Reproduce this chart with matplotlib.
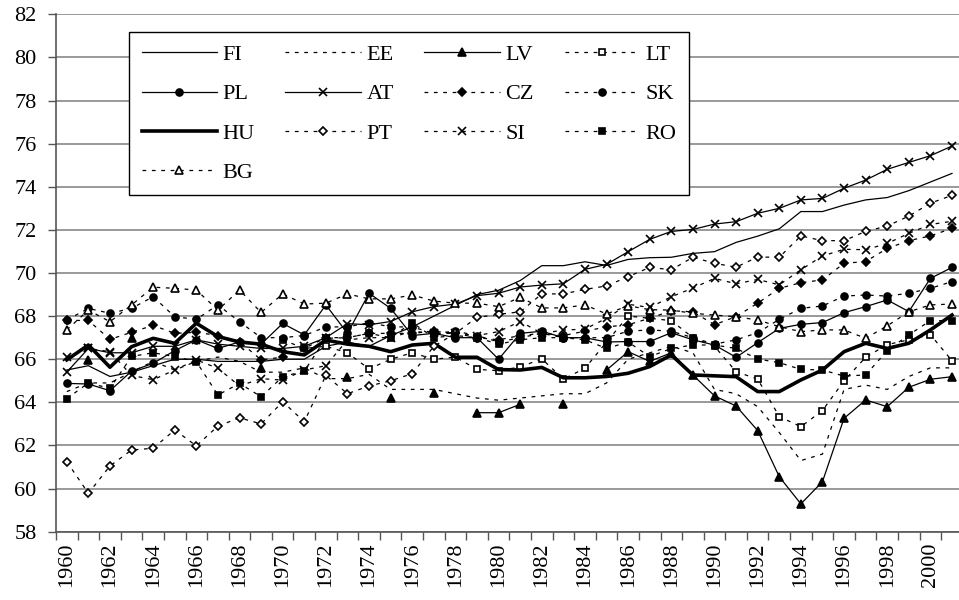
import numpy as np
import matplotlib
matplotlib.use('Agg')
import matplotlib.pyplot as plt
from matplotlib.lines import Line2D

nan = np.nan
years = list(range(1960, 2002))
tick_years = list(range(1960, 2001, 2))

FI = [65.5, 65.7, 65.2, 65.4, 65.7, 66.0, 66.0, 65.9, 65.9, 65.9, 66.0, 66.0, 66.6, 66.8, 66.6, 67.1, 67.5, 68.0, 68.5, 69.0,
      69.2, 69.65, 70.34, 70.34, 70.52, 70.35, 70.63, 70.71, 70.73, 70.91, 70.99, 71.42, 71.71, 72.05, 72.85, 72.85, 73.15, 73.39,
      73.5, 73.82, 74.22, 74.62]
EE = [64.5, 64.9, 64.9, 65.4, 65.9, 65.5, 65.9, 66.1, 65.9, 65.4, 65.4, 65.6, 65.1, 65.1, 65.3, 64.6, 64.6, 64.6, 64.4, 64.2,
      64.1, 64.2, 64.3, 64.4, 64.4, 64.9, 66.0, 66.3, 66.6, 66.3, 64.6, 64.4, 63.8, 62.6, 61.3, 61.6, 64.6, 64.8, 64.6, 65.2,
      65.6, 65.6]
LV = [nan, 65.97, nan, 67.0, nan, nan, nan, nan, nan, 65.58, nan, nan, nan, 65.19, nan, 64.19, nan, 64.45, nan, 63.52,
      63.52, 63.91, nan, 63.91, nan, 65.5, 66.35, 65.9, 66.3, 65.27, 64.3, 63.83, 62.69, 60.55, 59.29, 60.32, 63.26, 64.11,
      63.8, 64.7, 65.07, 65.19]
LT = [nan, nan, nan, nan, nan, nan, nan, nan, nan, nan, 66.9, 66.5, 66.6, 66.3, 65.55, 66.0, 66.3, 66.0, 66.1, 65.53,
      65.47, 65.64, 66.02, 65.08, 65.58, 66.8, 68.0, 67.9, 67.79, 67.0, 66.6, 65.42, 65.08, 63.34, 62.87, 63.62, 65.0, 66.09,
      66.68, 66.9, 67.14, 65.93]
PL = [64.88, 64.85, 64.54, 65.45, 65.81, 66.4, 66.9, 66.5, 66.8, 66.7, 67.66, 67.13, 68.52, 67.2, 69.06, 68.36, 67.1, 67.2,
      67.0, 67.0, 66.0, 67.2, 67.3, 67.0, 67.0, 66.8, 66.82, 66.82, 67.23, 66.9, 66.66, 66.09, 66.77, 67.43, 67.62, 67.7,
      68.16, 68.44, 68.75, 68.21, 69.75, 70.26]
AT = [65.4, 66.5, 66.3, 66.3, 66.6, 66.6, 66.9, 66.7, 66.6, 66.5, 66.5, 66.6, 67.0, 67.65, 67.6, 67.75, 68.2, 68.44, 68.56,
      68.95, 69.06, 69.35, 69.44, 69.5, 70.17, 70.4, 70.99, 71.56, 71.93, 72.02, 72.27, 72.38, 72.77, 73.0, 73.39, 73.46,
      73.93, 74.31, 74.81, 75.13, 75.44, 75.89]
CZ = [67.8, 67.8, 66.92, 67.25, 67.57, 67.2, 67.25, 67.1, 66.82, 65.97, 66.1, 66.5, 67.0, 67.0, 67.2, 67.2, 67.2, 67.3,
      67.2, 67.0, 66.9, 67.1, 67.2, 67.1, 67.3, 67.5, 67.6, 67.9, 68.25, 68.2, 67.6, 67.98, 68.6, 69.29, 69.55, 69.68, 70.45,
      70.53, 71.14, 71.5, 71.72, 72.07]
SK = [67.82, 68.36, 68.13, 68.36, 68.9, 67.97, 67.85, 68.52, 67.74, 67.0, 67.0, 67.1, 67.5, 67.5, 67.7, 67.5, 67.5, 67.2,
      67.3, 67.1, 66.8, 67.0, 67.2, 67.0, 67.0, 67.0, 67.3, 67.36, 67.3, 67.0, 66.7, 66.9, 67.23, 67.85, 68.36, 68.47, 68.93,
      68.98, 68.93, 69.06, 69.29, 69.6]
HU = [65.97, 66.66, 65.63, 66.58, 66.97, 66.74, 67.67, 67.05, 66.8, 66.7, 66.35, 66.2, 66.89, 66.7, 66.6, 66.35, 66.66,
      66.74, 66.09, 66.09, 65.52, 65.5, 65.62, 65.14, 65.14, 65.2, 65.35, 65.66, 66.2, 65.27, 65.23, 65.19, 64.5, 64.5, 65.04,
      65.5, 66.35, 66.74, 66.5, 66.74, 67.36, 68.05]
PT = [61.25, 59.78, 61.05, 61.79, 61.87, 62.72, 61.98, 62.9, 63.28, 63.0, 64.03, 63.1, 65.25, 64.4, 64.76, 65.0, 65.33, 66.6,
      67.2, 67.94, 68.08, 68.2, 69.03, 69.03, 69.24, 69.4, 69.83, 70.26, 70.15, 70.73, 70.45, 70.27, 70.74, 70.73, 71.72, 71.5,
      71.5, 71.93, 72.18, 72.64, 73.24, 73.6]
SI = [66.1, 66.5, 66.35, 65.25, 65.05, 65.5, 65.97, 65.58, 64.76, 65.1, 65.03, 65.5, 65.7, 66.9, 67.0, 67.0, 67.3, 67.2,
      67.2, 67.1, 67.28, 67.75, 67.2, 67.35, 67.4, 67.9, 68.55, 68.4, 68.9, 69.3, 69.75, 69.5, 69.7, 69.45, 70.15, 70.79, 71.1,
      71.08, 71.37, 71.84, 72.25, 72.4]
RO = [64.17, 64.9, 64.65, 66.13, 66.3, 66.12, 65.89, 64.34, 64.88, 64.26, 65.19, 65.45, 66.97, 67.0, 67.2, 67.0, 67.7, 67.0,
      67.1, 67.0, 66.7, 66.9, 67.0, 67.0, 66.9, 66.5, 66.8, 66.12, 66.5, 66.66, 66.66, 66.5, 66.01, 65.84, 65.53, 65.5, 65.22,
      65.27, 66.4, 67.13, 67.79, 67.79]
BG = [67.36, 68.28, 67.74, 68.52, 69.34, 69.29, 69.21, 68.28, 69.21, 68.17, 69.03, 68.56, 68.6, 69.03, 68.8, 68.8, 68.98,
      68.7, 68.6, 68.6, 68.44, 68.87, 68.38, 68.38, 68.52, 68.1, 68.48, 68.3, 68.28, 68.13, 68.05, 67.97, 67.82, 67.51, 67.28,
      67.36, 67.36, 66.97, 67.55, 68.2, 68.52, 68.56]

plt.rcParams['font.family'] = ['Liberation Serif', 'DejaVu Serif']
FS = 16

fig = plt.figure(figsize=(9.59, 6.0), dpi=100)
top_px, bot_px, left_px, right_px = 14.3, 531.7, 56.0, 962.8
ax = fig.add_axes([left_px / 959, 1 - bot_px / 600, (right_px - left_px) / 959, (bot_px - top_px) / 600])
x = np.arange(len(years))

DOT = (0, (3, 4.5))
black = 'black'
specs = [
    ('FI', FI, '-', None, None, 0.9, 0),
    ('EE', EE, DOT, None, None, 0.9, 0),
    ('LV', LV, '-', '^', 'fill', 0.9, 5.5),
    ('LT', LT, DOT, 's', 'open', 0.9, 4.5),
    ('PL', PL, '-', 'o', 'fill', 0.9, 5),
    ('AT', AT, '-', 'x', 'fill', 0.9, 6),
    ('CZ', CZ, DOT, 'D', 'fill', 0.9, 4.5),
    ('SK', SK, DOT, 'o', 'fill', 0.9, 5),
    ('HU', HU, '-', None, None, 2.6, 0),
    ('PT', PT, DOT, 'D', 'open', 0.9, 4.5),
    ('SI', SI, DOT, 'x', 'fill', 0.9, 6),
    ('RO', RO, DOT, 's', 'fill', 0.9, 4.5),
    ('BG', BG, DOT, '^', 'open', 0.9, 5.5),
]

handles = {}
for name, data, ls, mk, fillmode, lw, ms in specs:
    kw = dict(color=black, linestyle=ls, linewidth=lw)
    if mk:
        kw.update(marker=mk, markersize=ms, markeredgecolor=black, markeredgewidth=1.2,
                  markerfacecolor=black if fillmode == 'fill' else 'white')
    line, = ax.plot(x, np.array(data, dtype=float), **kw)
    line.set_clip_on(False)
    handles[name] = line

ax.set_xlim(-0.5, len(years) - 0.5)
ax.set_ylim(58, 82)
ax.set_yticks(range(58, 83, 2))
ax.yaxis.grid(True, color='#888888', linewidth=1.2)
ax.set_axisbelow(True)
for s in ['top', 'right']:
    ax.spines[s].set_visible(False)
for s in ['left', 'bottom']:
    ax.spines[s].set_color('#555555')
    ax.spines[s].set_linewidth(1.2)

ax.set_xticks([years.index(y) for y in tick_years])
ax.set_xticklabels([str(y) for y in tick_years], rotation=90, fontsize=FS)
ax.tick_params(axis='x', which='major', length=0, pad=8)
ax.set_xticks(np.arange(-0.5, len(years), 1.0), minor=True)
ax.tick_params(axis='x', which='minor', length=5.5, width=1.0, color='#555555', direction='out')
ax.tick_params(axis='y', labelsize=FS, length=6, width=1.0, color='#555555', pad=8)

order = ['FI', 'PL', 'HU', 'BG', 'EE', 'AT', 'PT', 'LV', 'CZ', 'SI', 'LT', 'SK', 'RO']
leg = fig.legend([handles[n] for n in order], order, loc='upper left',
                 bbox_to_anchor=(129.3 / 959, 1 - 32.3 / 600), ncol=4, fontsize=FS,
                 frameon=True, fancybox=False, edgecolor='black', framealpha=1,
                 handlelength=3.4, handletextpad=0.25, columnspacing=1.38, labelspacing=0.84,
                 borderpad=0.55, borderaxespad=0, numpoints=1)
leg.get_frame().set_linewidth(1.0)

fig.savefig('out.png', dpi=100)
